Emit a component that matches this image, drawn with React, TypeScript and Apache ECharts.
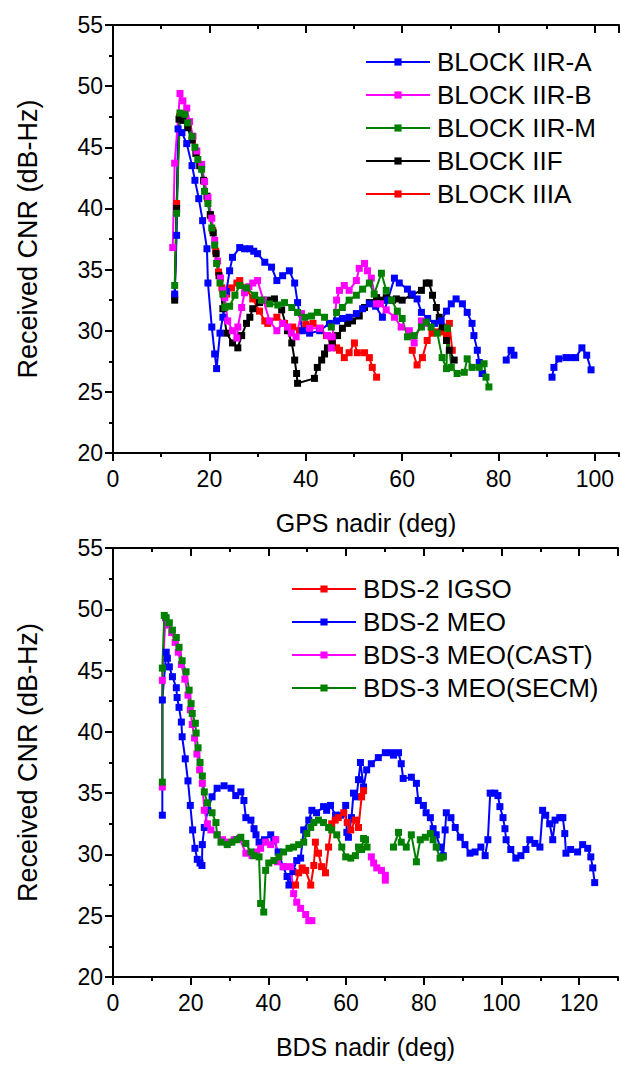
import React, { useEffect, useRef } from "react";
import * as echarts from "echarts";

type Pt = [number, number] | null;

// ---------- GPS (top) ----------
const gpsXTicks = { min: 0, max: 105, major: 20, minor: 10 };
const cnrTicks = { min: 20, max: 55, major: 5 };

const blockIIRA: Pt[] = [
  [12.8, 33.0], [13.2, 37.8], [13.5, 46.5], [14.3, 46.2], [15.3, 45.3], [16.4, 43.5], [17, 42.3], [17.8, 40.8],
  [18.6, 39], [19.5, 36.7], [19.7, 33.9], [20.5, 30.3], [21.1, 28.1], [21.5, 26.9], [22.2, 29.8], [22.8, 31.1],
  [23.5, 33.2], [24.2, 34.9], [24.8, 36], [26.3, 36.8], [27.3, 36.7], [28.4, 36.7], [29.2, 36.5], [30, 36.3],
  [31.5, 35.6], [32.9, 35.2], [34, 34.1], [35.2, 34.5], [36.6, 34.9], [37.7, 33.9], [38.3, 32.3], [39.3, 30],
  [40.8, 29.8], [42.9, 30], [44.9, 30.6], [46.4, 30.8], [47.6, 31], [49, 31.1], [50.5, 31.4], [51.8, 31.8],
  [53.2, 32.2], [54.5, 32], [55.9, 31.1], [57, 32.5], [58.4, 34.3], [59.4, 33.9], [61.1, 33.4], [62.1, 33],
  [63.1, 32.6], [64, 31.5], [65.3, 31], [66.7, 30.6], [68.1, 30.8], [69.2, 31.6], [70.2, 32.2], [71.2, 32.6],
  [72.5, 32.2], [73.5, 31.5], [74.5, 30.6], [74.9, 29.6], [75.6, 28.4], [76, 27.4], [76.6, 26.5], null,
  [81.6, 27.6], [82.6, 28.4], [83.2, 28], null,
  [91.1, 26.2], [91.5, 27], [92.5, 27.7], [94, 27.8], [95, 27.8], [96, 27.8], [97.3, 28.6], [98.3, 28], [99.2, 26.8],
];

const blockIIRB: Pt[] = [
  [12.4, 36.8], [12.8, 43.7], [13.9, 49.4], [14.5, 48.8], [15.3, 48.2], [15.9, 47.1], [16.6, 45.9], [17.4, 44.7],
  [18.4, 43.6], [19, 42.2], [19.7, 40.9], [20.5, 39.2], [21.1, 37.4], [21.7, 35.7], [22.3, 34.3], [22.8, 33.3],
  [23.2, 32.7], [23.8, 30.8], [24.8, 30], [25.7, 29.4], [25.9, 30.3], [26.7, 31.9], [27.3, 33.1], [28.2, 33.6],
  [29, 33.9], [30, 34.1], [31.2, 32.5], [32.5, 30.8], [34, 30], [35.2, 30.6], [36.2, 30.3], [37, 29.8],
  [38, 29.5], [39.1, 31.4], [40.8, 30.2], [42.9, 30.2], [44.5, 29.6], [45.3, 28.6], [45.5, 29.5], [46.4, 32.5],
  [47, 33.3], [48, 33.7], [49, 33.3], [50.5, 34.1], [51.1, 35.1], [52.2, 35.5], [52.8, 34.9], [53.6, 34.3],
  [54.7, 32.2], [55.5, 32.2], [56.7, 31.7], [58.4, 31.1], [59.8, 30.3], [61.5, 30], [62.5, 29], [64, 30.8], [65, 30.6],
];

const blockIIRM: Pt[] = [
  [12.8, 33.7], [13.2, 39.6], [13.9, 47.8], [14.9, 47.7], [15.5, 47], [16.4, 45.9], [17, 45], [17.6, 44],
  [18.4, 43.2], [19, 41.4], [19.7, 40.4], [20.5, 38.4], [21.1, 37], [21.5, 35.5], [22.2, 33.9], [22.8, 33],
  [23.2, 31.9], [24.2, 32], [25.3, 32.9], [26.3, 33.7], [27.7, 33.5], [29.4, 32.9], [30.8, 32.5], [32.5, 32.2],
  [34.2, 32.1], [35.6, 32.3], [37.1, 31.9], [38.3, 31.5], [39.8, 31.1], [41.2, 31.2], [42.4, 31.5], [43.9, 31.1],
  [45.3, 30.3], [46.4, 31.5], [47.6, 31.9], [49, 32.5], [50.5, 32.9], [51.8, 33.4], [53.2, 33.9], [54.2, 33],
  [55.7, 34.7], [56.7, 33.3], [57.8, 32.5], [59, 31.6], [60, 31], [61.1, 29.5], [62.5, 29.6], [64, 30.3],
  [65, 30.7], [66, 30.3], [67.3, 29.8], [68.3, 27.8], [69.2, 26.9], [69.4, 30.2], [70.2, 27], [71.4, 26.5],
  [72.9, 26.6], [73.5, 27.7], [74.5, 27], [76, 27], [77, 27.3], [77.4, 26.2], [78, 25.4],
];

const blockIIF: Pt[] = [
  [12.8, 32.5], [13.2, 40], [13.7, 47.3], [14.6, 47.2], [15.5, 46.6], [16.4, 45.6], [17.2, 44.5], [18, 43.5],
  [18.8, 42.3], [19.5, 41], [20.2, 39.5], [20.8, 38], [21.4, 36.3], [22, 34.5], [22.8, 31.8], [23.6, 29.8],
  [24.8, 29], [25.9, 28.6], [26.7, 29.6], [27.7, 30.6], [28.4, 31.1], [29, 31.8], [30.4, 32.3], [32.1, 32.5],
  [33.5, 32.6], [35, 31.7], [36.2, 30], [37.1, 29], [37.7, 27.6], [38.1, 26.5], [38.3, 25.7], [41.8, 26.1],
  [42.4, 27], [43.3, 27.6], [43.9, 28.1], [44.5, 28.6], [45.5, 29], [46.6, 29.6], [47.6, 30.2], [48.7, 30.6],
  [49.7, 30.8], [51.1, 31.2], [52.2, 31.9], [53.2, 32.3], [54.7, 32.7], [55.9, 32.5], [56.7, 32.7], [58, 32.5],
  [58.8, 32.6], [60, 32.5], [61.9, 32.9], [64, 33.3], [65, 33.9], [65.6, 33.9], [66.3, 32.9], [67.1, 31.9],
  [67.7, 31.1], [68.3, 30.3], [69.2, 29.2], [69.8, 28.4], [70.8, 27.6],
];

const blockIIIA: Pt[] = [
  [12.8, 32.8], [13.2, 40.4], [13.8, 47.5], [14.7, 47.4], [15.6, 46.7], [16.5, 45.6], [17.3, 44.6], [18.1, 43.5],
  [18.9, 42.2], [19.6, 40.8], [20.2, 39.4], [20.7, 38.2], [21.3, 36.5], [21.9, 34.8], [22.6, 33.5], [23.6, 33],
  [24.6, 33.5], [25.7, 33.9], [26.3, 34.1], [27.5, 33.5], [29, 32.6], [30.4, 31.6], [31.5, 30.8], [32.1, 30.6],
  [34, 31.1], [35.6, 30.6], [37.3, 30.3], [38.7, 30], [40, 30.5], [41.5, 30.6], [43, 30.2], [44.3, 29.6],
  [45.5, 29.2], [46.4, 28.6], [47, 28.4], [48, 27.8], [49, 28.2], [50.1, 29], [50.7, 28.2], [52.2, 28.2],
  [53.2, 27.8], [53.8, 27], [54.7, 26.2], null,
  [62.1, 28.4], [63.1, 27.2], [64.2, 27.8], [65.2, 29.2], [66.2, 29.8], [67.3, 29.9], [68.2, 29.9], [69.2, 29.6],
  [69.8, 30.6], [70.4, 28.4],
];

// ---------- BDS (bottom) ----------
const bdsXTicks = { min: 0, max: 130, major: 20, minor: 10 };

const bds2IGSO: Pt[] = [
  [47, 27.5], [47.8, 28.5], [48.7, 28.9], [49.6, 28.7], [50.9, 27.5], [51.7, 29.1], [52.1, 31], [52.9, 30.1],
  [53.7, 29], [54.7, 28.5], [55.5, 30.6], [56.3, 32.5], [57.2, 32.8], [58, 33], [59.4, 33.4], [60.3, 32.6],
  [61.2, 32], [62.4, 32.8], [63.2, 32.2], [64, 34.7], [64.5, 35.2],
];

const bds2MEO: Pt[] = [
  [12.7, 33.2], [12.7, 42.6], [13.7, 46.5], [14, 46], [14.5, 45.3], [15.3, 44.5], [16.3, 43.6], [16.5, 42.8],
  [17, 42], [17.6, 40.8], [17.8, 39.6], [18.6, 37.8], [19.3, 36], [19.9, 34], [20.5, 32], [21.1, 30.5],
  [21.7, 29.6], [22.4, 29.3], [22.9, 29.1], [23, 30.8], [23.5, 32.2], [24.4, 33.6], [25.5, 34.7], [26.8, 35.4],
  [28.6, 35.6], [30.4, 35.4], [31.6, 34.8], [32.9, 35.1], [33.7, 34.4], [34.2, 33], [35.5, 32.8], [36.3, 32.1],
  [36.8, 31.6], [37.6, 31], [39, 31.2], [40.6, 31.6], [41.4, 31.2], [42.5, 30.2], [43.8, 29], [44.8, 28.2],
  [45.3, 27.5], [46.3, 28.6], [47.3, 29.5], [48.3, 29.7], [49.1, 32], [50.4, 32.8], [51.2, 33.6], [52.4, 33.4],
  [54.2, 33.9], [55, 33.6], [56, 34], [57.3, 33.2], [58.6, 33.2], [59.9, 34], [60.2, 31.8], [60.6, 31.4],
  [61.4, 33], [61.9, 35], [62.7, 34.7], [63.2, 36.1], [63.7, 37.5], [64.5, 35.5], [65.3, 36.9], [66.5, 37.4],
  [68.3, 37.9], [70.1, 38.3], [71.7, 38.3], [72.2, 38.1], [73.5, 38.3], [74.2, 37.4], [74.7, 36.2], [76.8, 36.3],
  [78.1, 35.8], [78.6, 34.4], [79.9, 34], [80.6, 33.4], [81.7, 33], [82.4, 32.1], [83.2, 31.6], [84.2, 30.6],
  [85, 29.9], [85.5, 32], [85.8, 33.4], [87, 33], [88.1, 32.2], [89.4, 31.4], [90.6, 30.8], [91.9, 30.1],
  [93.2, 30.2], [94.7, 30.6], [95.8, 29.9], [96.5, 31.2], [97.1, 35], [98.3, 35], [99.1, 34.8], [99.6, 33.9],
  [100.4, 33], [100.9, 32.1], [101.2, 31.2], [102.4, 30.4], [103.7, 29.7], [105, 29.9], [106.3, 30.4], [107.3, 31.2],
  [108.6, 30.9], [109.9, 30.6], [110.6, 33.6], [111.4, 33.2], [112.4, 32.5], [113.2, 31.2], [113.8, 32.8], [115, 33],
  [115.8, 33], [116.3, 31.7], [116.6, 30.1], [117.8, 30.4], [119.6, 30.2], [120.9, 30.8], [122.2, 30.5], [123, 29.8],
  [123.5, 28.9], [124, 27.7],
];

const bds3CAST: Pt[] = [
  [12.7, 35.5], [12.7, 44.2], [13.5, 49.3], [14.3, 48.7], [15.1, 48.1], [16, 47.3], [16.8, 46.5], [17.6, 45.5],
  [18.5, 44.3], [19.3, 43], [19.9, 41.8], [20.4, 40.6], [21, 39.5], [21.6, 38.2], [22.3, 36.9], [23, 35.8],
  [23.5, 33.6], [24.3, 32.5], [25.2, 32], [26.8, 31.6], [28.2, 31.2], [29.8, 31], [31.2, 31.2], [32.6, 31.3],
  [34.2, 30.1], [35.8, 29.9], [37, 30.2], [38, 30.5], [39.3, 31], [40.6, 30.8], [41.9, 31.2], [42.3, 29.4],
  [43.9, 29], [45.7, 29], [46.5, 26.8], [47.3, 26.1], [48.3, 25.6], [49.6, 25.1], [50.4, 24.6], [51.2, 24.6], null,
  [66.5, 29.8], [67.1, 29.3], [67.9, 28.9], [69.1, 28.7], [70.1, 28.3], [70.1, 27.9],
];

const bds3SECM: Pt[] = [
  [12.7, 35.9], [12.7, 45.2], [13.2, 49.5], [13.7, 49.3], [14.5, 48.9], [15.3, 48.3], [16.3, 47.7], [17, 46.9],
  [17.8, 45.8], [18.8, 44.9], [19.6, 43.4], [20.1, 42.3], [20.4, 41.5], [21.2, 40.7], [21.4, 39.9], [21.9, 38.7],
  [22.4, 37.5], [23, 36.4], [23.5, 35.1], [24.3, 34.2], [25.5, 33.4], [26.5, 32.6], [26.8, 31.6], [27.8, 31],
  [29.4, 30.8], [30.6, 31], [31.9, 31.2], [32.9, 31.4], [34.2, 30.9], [35.5, 30.2], [36.3, 29.9], [37.6, 29.8],
  [38, 26], [38.8, 25.3], [39.3, 28.7], [40.1, 29.3], [41.4, 29.5], [42.7, 29.8], [43.9, 30.2], [45.3, 30.5],
  [46.5, 30.6], [47.8, 30.8], [49.1, 31], [49.9, 31.7], [50.9, 32.2], [51.7, 32.6], [52.9, 32.8], [54.2, 32.6],
  [55.5, 32.2], [56.3, 32], [57.6, 31.6], [58.9, 30.6], [59.9, 29.8], [61.2, 29.7], [62.4, 29.9], [63.2, 30.6],
  [64, 30.4], [64.5, 31.3], [65, 31.2], [65.4, 30.6], null,
  [72.2, 30.6], [73.5, 31.8], [74.2, 31], [75.5, 30.6], [76.8, 31.6], [78.1, 29.4], [79.1, 31.2], [80.4, 31.4],
  [81.7, 31.7], [82.4, 31.2], [83.2, 30.6], [84.2, 29.7], [85, 29.8],
];

const gpsLegend = ["BLOCK IIR-A", "BLOCK IIR-B", "BLOCK IIR-M", "BLOCK IIF", "BLOCK IIIA"];
const bdsLegend = ["BDS-2 IGSO", "BDS-2 MEO", "BDS-3 MEO(CAST)", "BDS-3 MEO(SECM)"];

const FONT = "Liberation Sans, Arial, sans-serif";
const TICK_FS = 23;
const XNAME_FS = 25;
const YNAME_FS = 27;
const LEGEND_FS = 26;

function toData(pts: Pt[]) {
  return pts.map((p) => (p === null ? ["-", "-"] : p));
}

function lineSeries(name: string, pts: Pt[], color: string, xi: number, yi: number) {
  return {
    name,
    type: "line",
    xAxisIndex: xi,
    yAxisIndex: yi,
    data: toData(pts),
    symbol: "rect",
    symbolSize: 7,
    connectNulls: false,
    lineStyle: { color, width: 2 },
    itemStyle: { color },
    emphasis: { disabled: true },
  };
}

function xAxes(grid: number, t: { min: number; max: number; major: number; minor: number }, name: string) {
  const line = { show: true, lineStyle: { color: "#000", width: 2 } };
  const base = { type: "value", gridIndex: grid, min: t.min, max: t.max, splitLine: { show: false } };
  return [
    {
      ...base,
      position: "bottom",
      interval: t.major,
      axisLine: line,
      axisTick: { show: true, length: 8, lineStyle: { color: "#000", width: 2 } },
      axisLabel: { show: true, color: "#000", fontSize: TICK_FS, fontFamily: FONT, margin: 14, showMaxLabel: false },
      name,
      nameLocation: "middle",
      nameGap: 57,
      nameTextStyle: { color: "#000", fontSize: XNAME_FS, fontFamily: FONT },
    },
    {
      ...base,
      position: "bottom",
      interval: t.minor,
      axisLine: { show: false },
      axisTick: { show: true, length: 4, lineStyle: { color: "#000", width: 2 } },
      axisLabel: { show: false },
    },
    {
      ...base,
      position: "top",
      interval: t.major,
      axisLine: line,
      axisTick: { show: true, inside: true, length: 8, lineStyle: { color: "#000", width: 2 } },
      axisLabel: { show: false },
    },
    {
      ...base,
      position: "top",
      interval: t.minor,
      axisLine: { show: false },
      axisTick: { show: true, inside: true, length: 4, lineStyle: { color: "#000", width: 2 } },
      axisLabel: { show: false },
    },
  ];
}

function yAxes(grid: number) {
  const line = { show: true, lineStyle: { color: "#000", width: 2 } };
  const base = {
    type: "value",
    gridIndex: grid,
    min: cnrTicks.min,
    max: cnrTicks.max,
    interval: cnrTicks.major,
    splitLine: { show: false },
    minorTick: { show: true, splitNumber: 2, length: 4, lineStyle: { color: "#000", width: 2 } },
    minorSplitLine: { show: false },
    axisLine: line,
  };
  return [
    {
      ...base,
      position: "left",
      axisTick: { show: true, length: 8, lineStyle: { color: "#000", width: 2 } },
      axisLabel: { show: true, color: "#000", fontSize: TICK_FS, fontFamily: FONT, margin: 10 },
      name: "Received CNR (dB-Hz)",
      nameLocation: "middle",
      nameGap: 72,
      nameRotate: 90,
      nameTextStyle: { color: "#000", fontSize: YNAME_FS, fontFamily: FONT },
    },
    {
      ...base,
      position: "right",
      axisTick: { show: true, inside: true, length: 8, lineStyle: { color: "#000", width: 2 } },
      axisLabel: { show: false },
    },
  ];
}

function legendCfg(data: string[], left: number, top: number) {
  return {
    data,
    orient: "vertical",
    left,
    top,
    itemWidth: 64,
    itemHeight: 9,
    itemGap: 7,
    textStyle: { color: "#000", fontSize: LEGEND_FS, fontFamily: FONT, padding: [0, 0, 0, 2] },
    selectedMode: false,
  };
}

export default function App() {
  const ref = useRef<HTMLDivElement>(null);
  useEffect(() => {
    if (!ref.current) return;
    const chart = echarts.init(ref.current, null, { renderer: "svg" });
    chart.setOption({
      animation: false,
      backgroundColor: "#fff",
      grid: [
        { left: 113, top: 25, width: 506, height: 428 },
        { left: 113, top: 548, width: 505, height: 429 },
      ],
      xAxis: [...xAxes(0, gpsXTicks, "GPS nadir (deg)"), ...xAxes(1, bdsXTicks, "BDS nadir (deg)")],
      yAxis: [...yAxes(0), ...yAxes(1)],
      legend: [legendCfg(gpsLegend, 360, 44), legendCfg(bdsLegend, 286, 571)],
      series: [
        lineSeries("BLOCK IIIA", blockIIIA, "#ff0000", 0, 0),
        lineSeries("BLOCK IIF", blockIIF, "#000000", 0, 0),
        lineSeries("BLOCK IIR-A", blockIIRA, "#0000ff", 0, 0),
        lineSeries("BLOCK IIR-B", blockIIRB, "#ff00ff", 0, 0),
        lineSeries("BLOCK IIR-M", blockIIRM, "#008000", 0, 0),
        lineSeries("BDS-2 MEO", bds2MEO, "#0000ff", 4, 2),
        lineSeries("BDS-3 MEO(CAST)", bds3CAST, "#ff00ff", 4, 2),
        lineSeries("BDS-2 IGSO", bds2IGSO, "#ff0000", 4, 2),
        lineSeries("BDS-3 MEO(SECM)", bds3SECM, "#008000", 4, 2),
      ],
    });
    return () => chart.dispose();
  }, []);
  return (
    <div
      ref={ref}
      style={{ position: "absolute", left: 0, top: 0, width: 621, height: 1069, background: "#fff" }}
    />
  );
}
